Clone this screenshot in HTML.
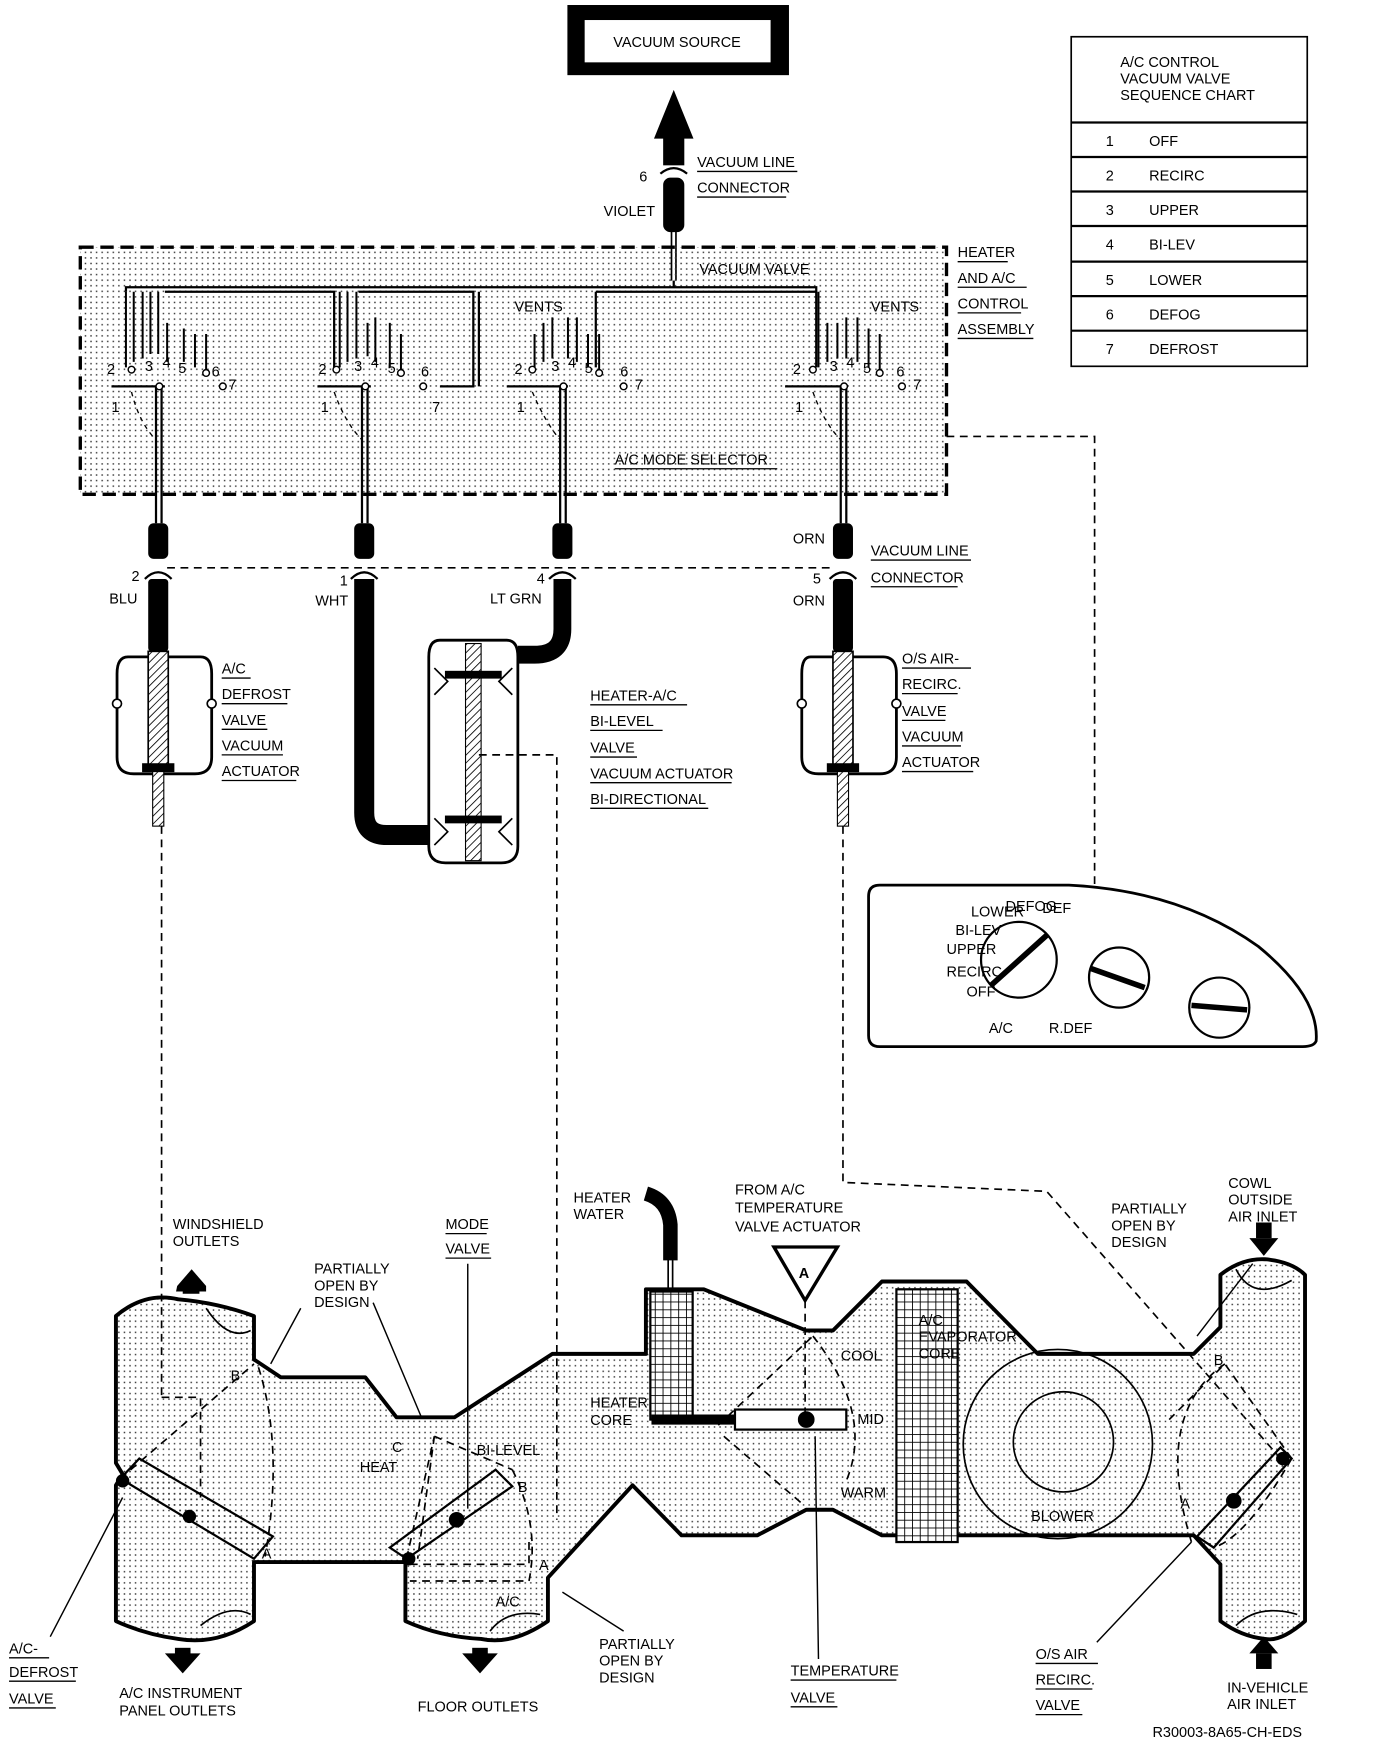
<!DOCTYPE html>
<html><head><meta charset="utf-8"><style>
html,body{margin:0;padding:0;background:#fff}
svg{display:block}
text{font-family:"Liberation Sans",sans-serif;font-size:13px;fill:#000}
.s{font-size:6px}
</style></head><body>
<svg width="1392" height="1738" viewBox="0 0 1250 1561" xmlns="http://www.w3.org/2000/svg">
<defs>
<pattern id="d" width="5" height="5" patternUnits="userSpaceOnUse"><rect x="1" y="1" width="1.3" height="1.3" fill="#333"/></pattern>
<pattern id="g" width="7" height="7" patternUnits="userSpaceOnUse"><rect width="7" height="7" fill="#fff"/><path d="M0 0H7M0 0V7" stroke="#000" stroke-width="1.6"/></pattern>
<pattern id="h" width="5" height="5" patternUnits="userSpaceOnUse" patternTransform="rotate(45)"><rect width="5" height="5" fill="#fff"/><path d="M0 0V5" stroke="#000" stroke-width="1.5"/></pattern>
</defs>
<g fill="none" stroke="#000">
<rect x="510" y="5" width="198" height="62" fill="#000"/>
<rect x="525" y="18" width="167" height="38" fill="#fff" stroke="none"/>
<polygon points="605,82 588,124 622,124" fill="#000"/>
<rect x="596" y="122" width="18" height="26" fill="#000"/>
<path d="M593 156 Q605 146 617 156" stroke-width="2"/>
<rect x="596" y="160" width="18" height="48" fill="#000" rx="6"/>
<path d="M603 208V252M607 208V252" stroke-width="1.5"/>
<rect x="72" y="222" width="778" height="222" fill="url(#d)" stroke-width="3" stroke-dasharray="12,6"/>
<path d="M113 262V258H605M605 252V258H733V330" stroke-width="2"/>
<path d="M148 262H300V330M322 262H425V347H395M430 262V347M535 262H733M535 262V330" stroke-width="2"/>
<g stroke-width="1.8">
<path d="M113 262V330M120 262V325M128 262V322M135 262V318M142 262V318M150 290V325M165 295V325M175 300V330M185 300V335"/>
<path d="M305 262V330M312 262V325M320 262V322M330 290V320M337 285V325M350 290V330M360 300V332"/>
<path d="M480 300V330M488 290V325M496 285V322M510 285V322M518 285V325M528 300V330M538 300V335"/>
<path d="M735 262V330M743 290V325M752 290V322M760 285V322M770 285V325M780 295V330M790 300V335"/>
</g>
<g stroke-width="2">
<path d="M100 347H148M285 347H333M455 347H510M705 347H760"/>
<path d="M140 347V470M145 347V470M325 347V470M330 347V470M503 347V470M508 347V470M755 347V470M760 347V470"/>
<path d="M118 352Q125 380 140 395M300 352Q310 380 325 395M478 352Q490 380 503 395M730 352Q740 380 755 395" stroke-dasharray="4,4" stroke-width="1.2"/>
</g>
<g fill="#fff" stroke-width="1.3"><circle cx="118" cy="332" r="3"/><circle cx="302" cy="332" r="3"/><circle cx="478" cy="332" r="3"/><circle cx="730" cy="332" r="3"/>
<circle cx="185" cy="335" r="3"/><circle cx="360" cy="335" r="3"/><circle cx="538" cy="335" r="3"/><circle cx="790" cy="335" r="3"/>
<circle cx="200" cy="347" r="3"/><circle cx="380" cy="347" r="3"/><circle cx="560" cy="347" r="3"/><circle cx="810" cy="347" r="3"/>
<circle cx="143" cy="347" r="3"/><circle cx="328" cy="347" r="3"/><circle cx="506" cy="347" r="3"/><circle cx="758" cy="347" r="3"/></g>
<g fill="#000" stroke="none">
<rect x="133" y="470" width="18" height="32" rx="5"/><rect x="318" y="470" width="18" height="32" rx="5"/><rect x="496" y="470" width="18" height="32" rx="5"/><rect x="748" y="470" width="18" height="32" rx="5"/>
<rect x="133" y="520" width="18" height="65" rx="3"/><rect x="748" y="520" width="18" height="65" rx="3"/>
</g>
<g stroke-width="2"><path d="M130 520Q142 508 154 520M315 520Q327 508 339 520M493 520Q505 508 517 520M745 520Q757 508 769 520"/></g>
<path d="M150 510H745" stroke-dasharray="7,5" stroke-width="1.5"/>
<path d="M327 520V730Q327 750 347 750H385" stroke-width="18"/>
<path d="M505 520V565Q505 588 480 588H465" stroke-width="16"/>
<g stroke-width="2.5" fill="#fff">
<path d="M115 590H180Q190 590 190 605V680Q190 695 175 695H120Q105 695 105 680V605Q105 590 115 590Z"/>
<path d="M728 590H793Q805 590 805 605V680Q805 695 790 695H735Q720 695 720 680V605Q720 590 728 590Z"/>
<path d="M395 575H455Q465 575 465 590V760Q465 775 450 775H400Q385 775 385 760V590Q385 575 395 575Z"/>
</g>
<rect x="133" y="585" width="18" height="105" fill="url(#h)" stroke-width="1.5"/>
<rect x="748" y="585" width="18" height="105" fill="url(#h)" stroke-width="1.5"/>
<rect x="137" y="690" width="10" height="52" fill="url(#h)"/>
<rect x="752" y="690" width="10" height="52" fill="url(#h)"/>
<rect x="128" y="686" width="28" height="7" fill="#000"/><rect x="743" y="686" width="28" height="7" fill="#000"/>
<rect x="418" y="578" width="14" height="195" fill="url(#h)"/>
<rect x="400" y="603" width="50" height="6" fill="#000"/><rect x="400" y="733" width="50" height="6" fill="#000"/>
<path d="M390 600L402 612L390 624M460 600L448 612L460 624M390 735L402 747L390 759M460 735L448 747L460 759" stroke-width="1.5"/>
<g fill="#fff" stroke-width="1.5"><circle cx="105" cy="632" r="4"/><circle cx="190" cy="632" r="4"/><circle cx="720" cy="632" r="4"/><circle cx="805" cy="632" r="4"/></g>
<g stroke-dasharray="7,5" stroke-width="1.5">
<path d="M145 742V1255"/>
<path d="M430 678H500V1365"/>
<path d="M757 742V1062L940 1070L1150 1310"/>
<path d="M850 392H983V815"/>
</g>
<path d="M790 795H960Q1060 800 1130 850Q1185 895 1182 935Q1180 940 1170 940H790Q780 940 780 930V805Q780 795 790 795Z" stroke-width="2.5" fill="#fff"/>
<g stroke-width="2" fill="#fff"><circle cx="915" cy="862" r="34"/><circle cx="1005" cy="878" r="27"/><circle cx="1095" cy="905" r="27"/></g>
<g stroke-width="5"><path d="M890 885L940 840M980 870L1028 887M1070 903L1120 907"/></g>
<path d="M104 1182Q130 1160 160 1167Q195 1170 228 1182V1221L252 1237H328L356 1273H408L496 1216H580V1158H632L724 1195H748L792 1151H868L932 1216H1072L1096 1192V1145Q1115 1130 1136 1131Q1160 1133 1172 1145V1317V1456Q1150 1475 1136 1472Q1115 1470 1096 1456V1405L1072 1379H792L748 1356H724L680 1379H612L568 1334L492 1417V1456Q460 1478 432 1472Q395 1470 364 1456V1403H228V1456Q195 1478 160 1472Q130 1468 104 1456V1334L110 1324L104 1314Z" fill="url(#d)" stroke-width="3.5" stroke-linejoin="round"/>
<path d="M185 1175Q205 1205 225 1195M1110 1140Q1125 1170 1160 1150M180 1460Q205 1440 225 1450M1110 1460Q1130 1440 1165 1450M440 1465Q455 1445 485 1450" stroke-width="1.5"/>
<rect x="584" y="1160" width="38" height="115" fill="url(#g)" stroke-width="2"/>
<rect x="805" y="1158" width="55" height="227" fill="url(#g)" stroke-width="2"/>
<path d="M600 1160V1130M604 1160V1130" stroke-width="1.5"/>
<path d="M602 1132V1100Q600 1078 580 1072" stroke-width="13"/>
<path d="M585 1275H660" stroke-width="9"/>
<rect x="660" y="1266" width="100" height="18" fill="#fff" stroke-width="2"/>
<circle cx="724" cy="1275" r="7" fill="#000"/>
<circle cx="950" cy="1297" r="85" stroke-width="1.5"/>
<circle cx="955" cy="1295" r="45" stroke-width="1.5"/>
<polygon points="695,1120 752,1120 723,1168" fill="#fff" stroke-width="3"/>
<g stroke-width="2">
<path d="M108 1328L125 1310L245 1380L228 1400Z" fill="url(#d)"/>
<path d="M365 1400L350 1390L445 1320L460 1335Z" fill="url(#d)"/>
<path d="M1160 1310L1150 1300L1075 1380L1090 1390Z" fill="url(#d)"/>
</g>
<g stroke-dasharray="7,5" stroke-width="1.5">
<path d="M108 1328L228 1225M232 1228Q255 1300 238 1398M145 1255H180V1345"/>
<path d="M365 1400L390 1290M390 1290L460 1320M368 1405H475V1385M390 1290L375 1400M460 1320Q485 1370 475 1420H368"/>
<path d="M723 1168V1272M645 1280L730 1200M650 1290L722 1352M730 1200Q785 1270 760 1330"/>
<path d="M1160 1310L1100 1225L1050 1275M1100 1225Q1035 1270 1070 1385M1160 1310Q1120 1380 1090 1390"/>
</g>
<g fill="#000" stroke="none"><circle cx="110" cy="1330" r="6"/><circle cx="170" cy="1362" r="6"/><circle cx="367" cy="1400" r="6"/><circle cx="410" cy="1365" r="7"/><circle cx="1152" cy="1310" r="6"/><circle cx="1108" cy="1348" r="7"/></g>
<g stroke-width="1.3">
<path d="M45 1470L110 1345M420 1135V1355M335 1170L378 1272M270 1175L243 1225M735 1490L732 1290M1125 1135L1075 1200M560 1465L505 1430M985 1475L1070 1385"/>
</g>
<g fill="#000" stroke="none">
<polygon points="158,1160 185,1160 185,1155 172,1140 159,1155"/>
<polygon points="1122,1112 1148,1112 1135,1128"/>
<rect x="157" y="1480" width="14" height="6"/><polygon points="148,1485 180,1485 164,1503"/>
<rect x="424" y="1480" width="14" height="6"/><polygon points="415,1485 447,1485 431,1503"/>
<polygon points="1122,1485 1148,1485 1135,1470"/>
<rect x="1128" y="1485" width="14" height="14"/>
<rect x="1128" y="1098" width="14" height="14"/>
<rect x="164" y="1150" width="15" height="12"/>
</g>
<rect x="962" y="33" width="212" height="296" stroke-width="1.5"/>
<path d="M962 110H1174M962 141H1174M962 172H1174M962 203H1174M962 235H1174M962 266H1174M962 297H1174" stroke-width="2"/>
</g>
<text x="608" y="42" text-anchor="middle" font-size="12">VACUUM SOURCE</text>
<g font-size="13">
<text x="626" y="150">VACUUM LINE</text><text x="626" y="173">CONNECTOR</text>
<text x="574" y="163">6</text><text x="542" y="194">VIOLET</text>
<text x="628" y="246">VACUUM VALVE</text>
<text x="860" y="231">HEATER</text><text x="860" y="254">AND A/C</text><text x="860" y="277">CONTROL</text><text x="860" y="300">ASSEMBLY</text>
<text x="462" y="280">VENTS</text><text x="782" y="280">VENTS</text>
<text x="552" y="417">A/C MODE SELECTOR</text>
<text x="1006" y="60">A/C CONTROL</text><text x="1006" y="75">VACUUM VALVE</text><text x="1006" y="90">SEQUENCE CHART</text>
<text x="993" y="131">1</text><text x="1032" y="131">OFF</text>
<text x="993" y="162">2</text><text x="1032" y="162">RECIRC</text>
<text x="993" y="193">3</text><text x="1032" y="193">UPPER</text>
<text x="993" y="224">4</text><text x="1032" y="224">BI-LEV</text>
<text x="993" y="256">5</text><text x="1032" y="256">LOWER</text>
<text x="993" y="287">6</text><text x="1032" y="287">DEFOG</text>
<text x="993" y="318">7</text><text x="1032" y="318">DEFROST</text>
<text x="118" y="522">2</text><text x="98" y="542">BLU</text>
<text x="305" y="526">1</text><text x="283" y="544">WHT</text>
<text x="482" y="524">4</text><text x="440" y="542">LT GRN</text>
<text x="712" y="488">ORN</text><text x="730" y="524">5</text><text x="712" y="544">ORN</text>
<text x="782" y="499">VACUUM LINE</text><text x="782" y="523">CONNECTOR</text>
<text x="199" y="605">A/C</text><text x="199" y="628">DEFROST</text><text x="199" y="651">VALVE</text><text x="199" y="674">VACUUM</text><text x="199" y="697">ACTUATOR</text>
<text x="530" y="629">HEATER-A/C</text><text x="530" y="652">BI-LEVEL</text><text x="530" y="676">VALVE</text><text x="530" y="699">VACUUM ACTUATOR</text><text x="530" y="722">BI-DIRECTIONAL</text>
<text x="810" y="596">O/S AIR-</text><text x="810" y="619">RECIRC.</text><text x="810" y="643">VALVE</text><text x="810" y="666">VACUUM</text><text x="810" y="689">ACTUATOR</text>
<text x="155" y="1104">WINDSHIELD</text><text x="155" y="1119">OUTLETS</text>
<text x="282" y="1144">PARTIALLY</text><text x="282" y="1159">OPEN BY</text><text x="282" y="1174">DESIGN</text>
<text x="400" y="1104">MODE</text><text x="400" y="1126">VALVE</text>
<text x="515" y="1080">HEATER</text><text x="515" y="1095">WATER</text>
<text x="660" y="1073">FROM A/C</text><text x="660" y="1089">TEMPERATURE</text><text x="660" y="1106">VALVE ACTUATOR</text>
<text x="1103" y="1067">COWL</text><text x="1103" y="1082">OUTSIDE</text><text x="1103" y="1097">AIR INLET</text>
<text x="998" y="1090">PARTIALLY</text><text x="998" y="1105">OPEN BY</text><text x="998" y="1120">DESIGN</text>
<text x="755" y="1222">COOL</text><text x="770" y="1279">MID</text><text x="755" y="1345">WARM</text>
<text x="825" y="1190">A/C</text><text x="825" y="1205">EVAPORATOR</text><text x="825" y="1220">CORE</text>
<text x="530" y="1264">HEATER</text><text x="530" y="1280">CORE</text>
<text x="926" y="1366">BLOWER</text>
<text x="323" y="1322">HEAT</text><text x="428" y="1307">BI-LEVEL</text>
<text x="352" y="1304">C</text><text x="465" y="1340">B</text><text x="484" y="1410">A</text><text x="445" y="1443">A/C</text>
<text x="207" y="1240">B</text><text x="235" y="1400">A</text>
<text x="1090" y="1226">B</text><text x="1060" y="1355">A</text>
<text x="8" y="1485">A/C-</text><text x="8" y="1506">DEFROST</text><text x="8" y="1530">VALVE</text>
<text x="107" y="1525">A/C INSTRUMENT</text><text x="107" y="1541">PANEL OUTLETS</text>
<text x="375" y="1537">FLOOR OUTLETS</text>
<text x="538" y="1481">PARTIALLY</text><text x="538" y="1496">OPEN BY</text><text x="538" y="1511">DESIGN</text>
<text x="710" y="1505">TEMPERATURE</text><text x="710" y="1529">VALVE</text>
<text x="930" y="1490">O/S AIR</text><text x="930" y="1513">RECIRC.</text><text x="930" y="1536">VALVE</text>
<text x="1102" y="1520">IN-VEHICLE</text><text x="1102" y="1535">AIR INLET</text>
<text x="1035" y="1560">R30003-8A65-CH-EDS</text>
</g>
<text x="722" y="1148" text-anchor="middle" font-size="22" font-weight="bold">A</text>
<g class="s"><text x="872" y="823">LOWER</text><text x="903" y="818">DEFOG</text><text x="936" y="820">DEF</text><text x="858" y="840">BI-LEV</text><text x="850" y="857">UPPER</text><text x="850" y="877">RECIRC</text><text x="868" y="895">OFF</text><text x="888" y="928">A/C</text><text x="942" y="928">R.DEF</text></g>
<g font-size="12"><text x="96" y="336">2</text><text x="130" y="333">3</text><text x="146" y="330">4</text><text x="160" y="335">5</text><text x="190" y="338">6</text><text x="205" y="350">7</text><text x="100" y="370">1</text>
<text x="286" y="336">2</text><text x="318" y="333">3</text><text x="333" y="330">4</text><text x="348" y="335">5</text><text x="378" y="338">6</text><text x="388" y="370">7</text><text x="288" y="370">1</text>
<text x="462" y="336">2</text><text x="495" y="333">3</text><text x="510" y="330">4</text><text x="525" y="335">5</text><text x="557" y="338">6</text><text x="570" y="350">7</text><text x="464" y="370">1</text>
<text x="712" y="336">2</text><text x="745" y="333">3</text><text x="760" y="330">4</text><text x="775" y="335">5</text><text x="805" y="338">6</text><text x="820" y="350">7</text><text x="714" y="370">1</text></g>
<g stroke="#000" stroke-width="1.2">
<path d="M626 154H716M626 177H706M860 235H905M860 258H922M860 281H917M860 304H928M552 421H698M782 503H872M782 527H860M199 609H225M199 632H258M199 655H240M199 678H254M199 701H266M530 633H617M530 656H595M530 680H572M530 703H657M530 726H636M810 600H872M810 623H860M810 647H849M810 670H863M810 693H874M400 1108H437M400 1130H441M8 1489H44M8 1510H68M8 1534H50M710 1509H805M710 1533H752M930 1494H986M930 1517H981M930 1540H972"/>
</g>
</svg>
</body></html>
